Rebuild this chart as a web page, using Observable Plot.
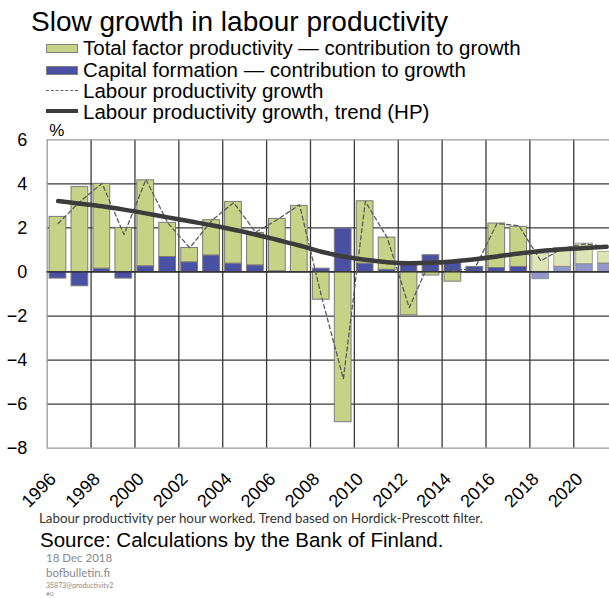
<!DOCTYPE html>
<html>
<head>
<meta charset="utf-8">
<script src="https://cdn.jsdelivr.net/npm/d3@7"></script>
<script src="https://cdn.jsdelivr.net/npm/@observablehq/plot@0.6"></script>
<style>
  html, body { margin: 0; padding: 0; background: #fff; overflow: hidden; }
  #wrap { position: relative; width: 609px; height: 598px; overflow: hidden; font-family: "Liberation Sans", Arial, sans-serif; background: #fff; }
  .abs { position: absolute; white-space: nowrap; line-height: 1; z-index: 2; }
  .sw { position: absolute; box-sizing: border-box; z-index: 2; }
</style>
</head>
<body>
<div id="wrap">
  <div class="abs" id="title" style="left:31px; top:8px; font-size:28px; color:#000;"></div>
  <div id="legend"></div>
  <div id="chart" style="position:absolute; left:0; top:120px; z-index:1;"></div>
  <div class="abs" id="note" style="left:39px; top:512px; font-family:Lato, 'Open Sans', sans-serif; font-size:13.3px; color:#333;"></div>
  <div class="abs" id="source" style="left:40px; top:530px; font-size:20.5px; color:#000;"></div>
  <div class="abs" id="date" style="left:46px; top:552px; font-family:Lato, sans-serif; font-size:11.5px; color:#8a8a8a;"></div>
  <div class="abs" id="site" style="left:46px; top:567px; font-family:Lato, sans-serif; font-size:11.5px; color:#8a8a8a;"></div>
  <div class="abs" id="code" style="left:46px; top:582px; font-family:Lato, sans-serif; font-size:7px; color:#8a8a8a;"></div>
  <div class="abs" id="code2" style="left:46px; top:591px; font-family:Lato, sans-serif; font-size:6.5px; color:#8a8a8a;"></div>
</div>
<script>
// ---- data ----
const titleText = "Slow growth in labour productivity";
const seriesNames = [
  "Total factor productivity \u2014 contribution to growth",
  "Capital formation \u2014 contribution to growth",
  "Labour productivity growth",
  "Labour productivity growth, trend (HP)"
];
const years = [1996,1997,1998,1999,2000,2001,2002,2003,2004,2005,2006,2007,2008,2009,2010,2011,2012,2013,2014,2015,2016,2017,2018,2019,2020,2021];
const tfp = [2.5,3.86,3.85,2.0,3.9,1.55,0.65,1.6,2.8,1.47,2.38,3.0,-1.26,-6.82,2.83,1.46,-1.97,-0.16,-0.44,-0.05,2.02,1.82,0.83,0.86,0.94,0.53];
const capital = [-0.3,-0.65,0.15,-0.3,0.26,0.68,0.44,0.75,0.38,0.3,0.03,-0.02,0.15,1.97,0.38,0.1,0.33,0.76,0.44,0.23,0.18,0.23,-0.33,0.23,0.35,0.38];
const labour = [2.2,3.2,4.02,1.7,4.2,2.22,1.1,2.33,3.15,1.8,2.38,3.05,-1.1,-4.85,3.2,1.55,-1.62,0.62,0.05,0.18,2.2,2.1,0.5,1.08,1.27,1.15];
const trend = [3.22,3.1,2.98,2.83,2.66,2.48,2.3,2.12,1.92,1.7,1.45,1.2,0.92,0.7,0.55,0.44,0.4,0.42,0.48,0.58,0.7,0.84,0.95,1.03,1.09,1.14];
const firstForecastYear = 2018;
const yTicks = [-8,-6,-4,-2,0,2,4,6];
const xTickYears = [1996,1998,2000,2002,2004,2006,2008,2010,2012,2014,2016,2018,2020];
const gridYears = [1998,2000,2002,2004,2006,2008,2010,2012,2014,2016,2018,2020,2022];
const xDomain = [1996, 2023];
const yUnit = "%";
const noteText = "Labour productivity per hour worked. Trend based on Hordick-Prescott filter.";
const sourceText = "Source: Calculations by the Bank of Finland.";
const dateText = "18 Dec 2018";
const siteText = "bofbulletin.fi";
const codeText = "35873@productivity2";
const code2Text = "#0";

// ---- styles ----
const green = "#c6d286";
const blue = "#4a51a4";
const gridDark = "#3a3a3a";
const gridLight = "#9a9a9a";

// ---- text ----
document.getElementById("title").textContent = titleText;
document.getElementById("note").textContent = noteText;
document.getElementById("source").textContent = sourceText;
document.getElementById("date").textContent = dateText;
document.getElementById("site").textContent = siteText;
document.getElementById("code").textContent = codeText;
document.getElementById("code2").textContent = code2Text;

// ---- legend ----
const legend = document.getElementById("legend");
const rowBase = [55, 77, 98, 119];
seriesNames.forEach((name, i) => {
  const t = document.createElement("div");
  t.className = "abs";
  t.style.left = "83px";
  t.style.top = (rowBase[i] - 17.4) + "px";
  t.style.fontSize = "20.5px";
  t.textContent = name;
  legend.appendChild(t);
  const s = document.createElement("div");
  s.className = "sw";
  s.style.left = "46px";
  s.style.width = "32px";
  if (i < 2) {
    s.style.top = (rowBase[i] - 11) + "px";
    s.style.height = "9px";
    s.style.background = i === 0 ? green : blue;
    s.style.border = "1px solid #808080";
  } else if (i === 2) {
    s.style.top = (rowBase[i] - 8) + "px";
    s.style.height = "0px";
    s.style.borderTop = "1px dashed #666";
  } else {
    s.style.top = (rowBase[i] - 10) + "px";
    s.style.height = "4px";
    s.style.background = "#3c3c3c";
  }
  legend.appendChild(s);
});

// ---- chart data ----
const bars = [];
years.forEach((y, i) => {
  const fc = y >= firstForecastYear;
  bars.push({year: y, value: capital[i], fill: blue, op: fc ? 0.6 : 1});
  bars.push({year: y, value: tfp[i], fill: green, op: fc ? 0.6 : 1});
});
const lines = years.map((y, i) => ({year: y, labour: labour[i], trend: trend[i]}));

const H = 395;
const chart = Plot.plot({
  width: 609,
  height: H,
  marginTop: 19.3,
  marginBottom: H - 327.7,
  marginLeft: 46.7,
  marginRight: 0,
  style: {fontFamily: "Liberation Sans, Arial, sans-serif", overflow: "hidden", background: "transparent"},
  x: {domain: xDomain, range: [46.7, 46.7 + 27 * 21.94], axis: null},
  y: {domain: [-8, 6], axis: null},
  color: {type: "identity"},
  marks: [
    Plot.ruleY(yTicks.filter(v => v > -8 && v < 6), {y: d => d, stroke: gridDark, strokeWidth: 1.3}),
    Plot.ruleX(gridYears, {x: d => d, stroke: gridDark, strokeWidth: 1.3}),
    Plot.ruleY([6, -8], {y: d => d, stroke: gridLight, strokeWidth: 1.3}),
    Plot.ruleX([xDomain[0]], {x: d => d, stroke: gridLight, strokeWidth: 1.3}),
    Plot.rectY(bars, {x: "year", interval: 1, y: "value", fill: "fill", fillOpacity: "op", stroke: "#7a7a7a", strokeOpacity: "op", strokeWidth: 1, insetLeft: 2.4, insetRight: 2.8}),
    Plot.ruleY([0], {y: d => d, stroke: "#222", strokeWidth: 1.3}),
    Plot.line(lines, {x: d => d.year + 0.5, y: "labour", stroke: "#5a5a5a", strokeWidth: 1.3, strokeDasharray: "4,3"}),
    Plot.line(lines, {x: d => d.year + 0.5, y: "trend", stroke: "#3c3c3c", strokeWidth: 4.5, curve: "monotone-x"}),
    Plot.axisY(yTicks, {tickSize: 0, tickPadding: 20, fontSize: 18, fill: "#000", anchor: "left"}),
    Plot.text([yUnit], {frameAnchor: "top-left", dx: 2, dy: -4, textAnchor: "start", lineAnchor: "bottom", fontSize: 17, fill: "#000"}),
    Plot.text(xTickYears, {x: d => d, frameAnchor: "bottom", text: d => String(d), rotate: -45, textAnchor: "end", lineAnchor: "bottom", dx: 10, dy: 32, fontSize: 18, fill: "#000"})
  ]
});
document.getElementById("chart").appendChild(chart);
</script>
</body>
</html>
